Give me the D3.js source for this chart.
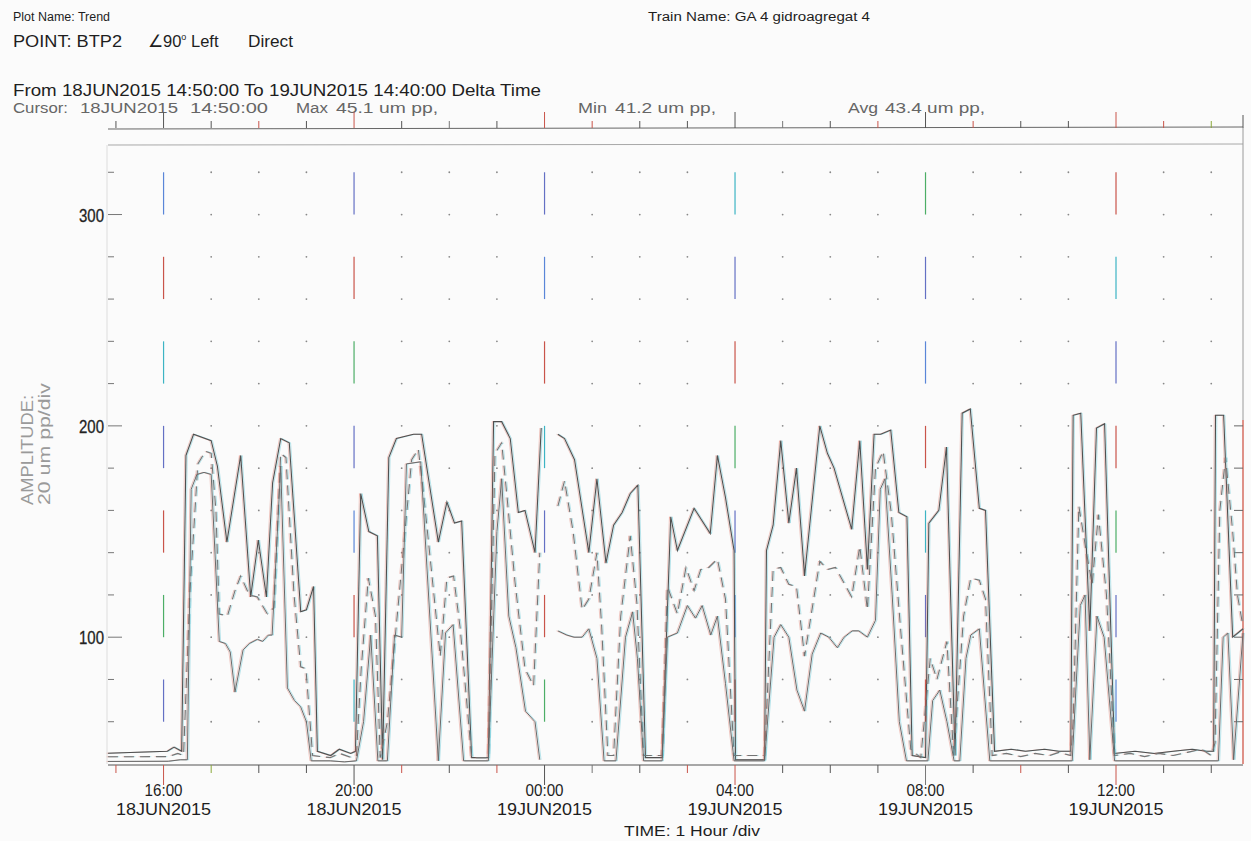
<!DOCTYPE html>
<html>
<head>
<meta charset="utf-8">
<script src="https://cdn.jsdelivr.net/npm/d3@7"></script>
<style>
  body { margin: 0; background: #fbfbfb; }
  text { font-family: "Liberation Sans", Arial, sans-serif; }
</style>
</head>
<body>
<svg id="chart" width="1251" height="841"></svg>
<script>
// times are clock hours counted from 18JUN2015 00:00 (24.5 = 19JUN 00:30), null = gap
const maxSeries = [
  [14.833,45.1],[16.08,46],[16.22,48],[16.38,46],
  [16.47,186],[16.63,196],[17.0,193],[17.13,181],[17.33,145],[17.62,186],[17.83,119],[17.99,146],
  [18.16,119],[18.29,173],[18.46,194],[18.64,192],[18.88,112],[19.0,113],[19.15,124],[19.23,46],
  [19.51,44],[19.69,47],[19.93,45],[20.03,46],
  [20.14,168],[20.31,150],[20.49,148],[20.6,42],
  [20.73,185],[20.89,194],[21.25,196],[21.42,196],[21.77,145],[21.95,164],[22.11,154],[22.26,155],[22.47,43],[22.82,43],
  [22.93,202],[23.1,202],[23.28,194],[23.45,159],[23.59,160],[23.8,140],[23.93,199],
  null,
  [24.28,196],[24.42,194],[24.63,184],[24.93,140],[25.1,175],[25.29,135],[25.45,153],[25.63,159],[25.8,168],[25.96,172],[26.12,43],[26.47,43],
  [26.65,157],[26.79,141],[27.14,161],[27.48,149],[27.63,186],[27.8,166],[27.98,141],[28.01,42],[28.62,42],
  [28.66,141],[28.8,153],[28.96,193],[29.13,154],[29.29,180],[29.46,129],[29.78,200],[29.94,187],[30.08,180],
  [30.45,151],[30.62,193],[30.78,132],[30.92,196],[31.06,196],[31.27,198],[31.44,159],[31.61,157],[31.72,44],[32.0,43],
  [32.07,154],[32.28,160],[32.44,190],[32.62,44],
  [32.77,206],[32.94,208],[33.13,161],[33.26,160],[33.45,46],
  [33.8,47],[34.1,46],[34.5,47],[34.8,46],[35.05,46],
  [35.1,205],[35.26,206],[35.45,103],[35.59,199],[35.76,201],[35.97,45],
  [36.4,46],[36.8,45],[37.2,46],[37.6,47],[37.9,46],[38.05,46],
  [38.09,205],[38.26,205],[38.45,100],[38.667,104]
];

const avgSeries = [
  [14.833,43.4],[16.1,43.5],[16.3,45],[16.42,44],
  [16.55,120],[16.72,182],[16.88,188],[17.0,187],[17.1,160],[17.17,111],[17.34,110],[17.5,122],[17.62,129],[17.8,120],
  [17.97,119],[18.18,111],[18.32,114],[18.46,187],[18.57,185],[18.74,120],[18.88,86],[18.99,85],[19.13,44],
  [19.5,43],[19.7,45],[19.95,43],[20.05,44],
  [20.15,85],[20.3,128],[20.45,110],[20.55,43],
  [20.7,60],[21.21,184],[21.35,189],[21.45,170],[21.81,91],[21.95,128],[22.09,129],[22.23,104],[22.47,43],[22.82,43],
  [22.96,187],[23.1,192],[23.21,167],[23.38,126],[23.59,85],[23.77,77],[23.9,140],
  null,
  [24.28,162],[24.42,174],[24.6,150],[24.79,113],[24.93,118],[25.1,140],[25.2,105],[25.33,44],[25.45,44],
  [25.6,110],[25.8,148],[25.94,116],[26.08,44],[26.47,44],
  [26.58,124],[26.79,111],[26.97,133],[27.14,122],[27.28,132],[27.45,133],[27.63,137],[27.8,118],[27.98,44],[28.62,44],
  [28.8,132],[28.96,133],[29.13,125],[29.29,124],[29.46,91],[29.78,136],[29.94,132],[30.11,133],[30.45,119],
  [30.62,143],[30.78,113],[30.95,180],[31.11,188],[31.28,159],[31.48,103],[31.69,47],[31.9,43],
  [32.1,90],[32.24,80],[32.45,98],[32.59,44],
  [32.8,110],[32.95,128],[33.13,127],[33.26,118],[33.4,44],
  [33.7,45],[34.0,43.5],[34.3,45],[34.6,44],[34.8,45.5],[35.05,44],
  [35.1,60],[35.22,162],[35.38,140],[35.5,125],[35.63,158],[35.8,120],[35.97,44],
  [36.3,45],[36.6,43.5],[36.9,45],[37.2,44],[37.5,45.5],[37.8,47],[38.0,44],[38.08,50],
  [38.18,160],[38.3,185],[38.45,150],[38.55,120],[38.667,105]
];

const minSeries = [
  [14.833,41.2],[16.1,41.3],[16.35,42],[16.5,42],
  [16.58,170],[16.7,177],[16.85,178],[17.0,177],[17.17,98],[17.3,97],[17.4,93],[17.5,74],[17.67,94],[17.8,97],
  [17.97,99],[18.08,98],[18.2,101],[18.28,101],[18.46,181],[18.6,76],[18.75,70],[18.88,67],[19.0,60],[19.1,41.5],
  [19.5,41.5],[19.8,41],[20.05,41.5],
  [20.2,60],[20.35,101],[20.5,41.5],[20.7,41.5],
  [20.85,101],[21.0,100],[21.1,182],[21.4,183],[21.77,41.5],[21.92,102],[22.08,106],[22.3,41.5],[22.82,41.5],
  [23.0,150],[23.1,175],[23.25,110],[23.4,95],[23.6,65],[23.8,60],[23.9,42],
  null,
  [24.28,103],[24.47,101],[24.62,100],[24.79,100],[24.93,104],[25.1,90],[25.25,41.5],[25.5,41.5],
  [25.7,100],[25.85,112],[25.95,90],[26.08,41.5],[26.47,41.5],
  [26.58,100],[26.79,102],[27.0,115],[27.17,109],[27.31,115],[27.49,101],[27.63,110],[27.8,78],[27.98,41.5],[28.62,41.5],
  [28.82,100],[28.96,106],[29.13,100],[29.3,75],[29.46,65],[29.62,92],[29.8,102],[29.97,100],[30.15,95],
  [30.29,100],[30.46,103],[30.6,103],[30.78,100],[30.95,108],[31.05,170],[31.15,175],[31.3,120],[31.45,60],[31.6,41.5],
  [32.05,41.5],[32.15,70],[32.3,75],[32.45,60],[32.6,41.5],
  [32.72,41.5],[32.85,90],[32.95,101],[33.13,104],[33.35,41.5],
  [35.08,41.5],[35.25,115],[35.35,120],[35.45,42],[35.6,110],[35.75,100],[35.97,41.5],
  [38.15,41.5],[38.25,100],[38.35,102],[38.47,42],[38.667,102]
];

const hourTicks = d3.range(15, 39);
const majorHours = [16, 20, 24, 28, 32, 36];
const yLabels = [100, 200, 300];
const dashLevels = [320, 280, 240, 200, 160, 120, 80];
const dashColors = ['#5a86d8', '#c9544a', '#3cb4c4', '#6470c4', '#c9544a', '#4cae66', '#6470c4'];
const tickColors = ['#c9544a', '#c9544a', '#8aa83a', '#555', '#555', '#555', '#c9544a', '#555', '#c9544a', '#555',
  '#777', '#555', '#c9544a', '#c9544a', '#555', '#555', '#555', '#777', '#555', '#c9544a', '#555', '#c9544a', '#555', '#555'];

const svg = d3.select('#chart');
const plotL = 108, plotR = 1243, plotT = 130, plotB = 764;

const x = d3.scaleLinear().domain([14.8333, 38.6667]).range([plotL, plotR]);
const y = d3.scaleLinear().domain([40, 340]).range([plotB, plotT]);

// text helper: width forced to what the scan shows
function label(parent, str, px, py, size, len, fill) {
  const t = parent.append('text').attr('x', px).attr('y', py).attr('font-size', size).text(str);
  if (len) t.attr('textLength', len).attr('lengthAdjust', 'spacingAndGlyphs');
  if (fill) t.attr('fill', fill);
  return t;
}

// header
const hdr = svg.append('g').attr('fill', '#1e1e1e');
label(hdr, 'Plot Name: Trend', 13, 21, 12, 97);
label(hdr, 'POINT: BTP2', 13, 47, 16.5, 109);
const ang = hdr.append('text').attr('x', 148).attr('y', 47).attr('font-size', 16.5);
ang.append('tspan').text('\u222090');
ang.append('tspan').attr('dy', -7).attr('font-size', 9).text('o');
ang.append('tspan').attr('dy', 7).text(' Left');
label(hdr, 'Direct', 248, 47, 16.5, 45);
label(hdr, 'Train Name: GA 4 gidroagregat 4', 648, 21, 12, 222);
label(hdr, 'From 18JUN2015 14:50:00 To 19JUN2015 14:40:00 Delta Time', 13, 96, 16.5, 528);

const cur = svg.append('g').attr('fill', '#666');
[['Cursor:', 13, 55], ['18JUN2015', 80, 98], ['14:50:00', 190, 78], ['Max', 296, 32], ['45.1 um pp,', 336, 102],
 ['Min', 578, 29], ['41.2 um pp,', 615, 101], ['Avg', 848, 30], ['43.4 um pp,', 885, 100]].forEach(([t, px, w]) => {
  label(cur, t, px, 113, 15.5, w);
});

// top ruler
svg.append('line').attr('x1', plotL).attr('x2', plotR).attr('y1', 129).attr('y2', 127)
  .attr('stroke', '#666').attr('stroke-width', 1);
svg.append('line').attr('x1', plotL).attr('x2', plotR).attr('y1', 145).attr('y2', 144)
  .attr('stroke', '#a8a8a8').attr('stroke-width', 1);
svg.selectAll('.ttick').data(hourTicks).enter().append('line')
  .attr('x1', d => x(d)).attr('x2', d => x(d))
  .attr('y1', 128).attr('y2', d => majorHours.includes(d) ? 112 : 121)
  .attr('stroke', (d, i) => tickColors[(i + 3) % tickColors.length]).attr('stroke-width', 1);
svg.append('line').attr('x1', plotR).attr('x2', plotR).attr('y1', 115).attr('y2', 128)
  .attr('stroke', '#555');

// frame
svg.append('line').attr('x1', plotL - 1).attr('x2', plotL - 1).attr('y1', 145).attr('y2', plotB)
  .attr('stroke', '#ddd');
svg.append('line').attr('x1', plotR).attr('x2', plotR).attr('y1', 127).attr('y2', 420)
  .attr('stroke', '#9a9a9a').attr('stroke-width', 1);
svg.append('line').attr('x1', plotR).attr('x2', plotR).attr('y1', 420).attr('y2', plotB)
  .attr('stroke', '#d0584a').attr('stroke-width', 1.3);

// y ticks left and right
const yt = d3.range(60, 340, 20);
svg.selectAll('.ytick').data(yt).enter().append('line')
  .attr('x1', plotL).attr('x2', d => yLabels.includes(d) ? plotL + 14 : plotL + 6)
  .attr('y1', d => y(d)).attr('y2', d => y(d)).attr('stroke', '#777');
svg.selectAll('.rtick').data(yt.filter(d => d <= 200)).enter().append('line')
  .attr('x1', plotR - 9).attr('x2', plotR).attr('y1', d => y(d)).attr('y2', d => y(d)).attr('stroke', '#666');
svg.selectAll('.ylab').data(yLabels).enter().append('text')
  .attr('x', 104).attr('y', d => y(d) + 7).attr('text-anchor', 'end')
  .attr('font-size', 18.5).attr('fill', '#222').attr('stroke', '#222').attr('stroke-width', 0.3)
  .attr('textLength', 25).attr('lengthAdjust', 'spacingAndGlyphs')
  .text(d => d);

svg.append('text').attr('transform', 'translate(33,450) rotate(-90)').attr('text-anchor', 'middle')
  .attr('font-size', 16).attr('fill', '#9a9a9a').attr('textLength', 110).attr('lengthAdjust', 'spacingAndGlyphs')
  .text('AMPLITUDE:');
svg.append('text').attr('transform', 'translate(50,444) rotate(-90)').attr('text-anchor', 'middle')
  .attr('font-size', 16).attr('fill', '#9a9a9a').attr('textLength', 122).attr('lengthAdjust', 'spacingAndGlyphs')
  .text('20 um pp/div');

// dot grid at minor hours
const minorHours = hourTicks.filter(h => !majorHours.includes(h) && h > 15);
const dots = [];
minorHours.forEach(h => d3.range(60, 340, 20).forEach(v => dots.push([h, v])));
svg.selectAll('.dot').data(dots).enter().append('circle')
  .attr('cx', d => x(d[0])).attr('cy', d => y(d[1])).attr('r', 0.9).attr('fill', '#888');

// coloured dash markers at 4-hour lines
const marks = [];
majorHours.forEach((h, i) => dashLevels.forEach((v, j) => marks.push({ h, v, c: dashColors[(i * 3 + j) % dashColors.length] })));
svg.selectAll('.mark').data(marks).enter().append('line')
  .attr('x1', d => x(d.h)).attr('x2', d => x(d.h))
  .attr('y1', d => y(d.v)).attr('y2', d => y(d.v - 20))
  .attr('stroke', d => d.c).attr('stroke-width', 1.2);

// bottom axis
svg.append('line').attr('x1', plotL).attr('x2', plotR).attr('y1', plotB + 1).attr('y2', plotB + 1)
  .attr('stroke', '#555').attr('stroke-width', 1.2);
svg.selectAll('.btick').data(hourTicks).enter().append('line')
  .attr('x1', d => x(d)).attr('x2', d => x(d))
  .attr('y1', plotB + 1).attr('y2', d => majorHours.includes(d) ? plotB + 21 : plotB + 9)
  .attr('stroke', (d, i) => tickColors[i % tickColors.length]).attr('stroke-width', 1);

const xl = svg.selectAll('.xlab').data(majorHours).enter().append('g').attr('fill', '#1e1e1e');
xl.append('text').attr('x', d => x(d)).attr('y', 796).attr('text-anchor', 'middle')
  .attr('font-size', 16.5).attr('textLength', 38).attr('lengthAdjust', 'spacingAndGlyphs')
  .text(d => String(d % 24).padStart(2, '0') + ':00');
xl.append('text').attr('x', d => x(d)).attr('y', 815).attr('text-anchor', 'middle')
  .attr('font-size', 16.5).attr('textLength', 95).attr('lengthAdjust', 'spacingAndGlyphs')
  .text(d => d < 24 ? '18JUN2015' : '19JUN2015');
label(svg, 'TIME: 1 Hour /div', 624, 836, 14, 136, '#1e1e1e');

// traces, with a faint cyan / red fringe like the scanned print
const line = d3.line().defined(d => d !== null).x(d => x(d[0])).y(d => y(d[1]));
const traces = [
  { data: maxSeries, color: '#505050', dash: null, w: 1.1 },
  { data: avgSeries, color: '#747474', dash: '10,6', w: 1.1 },
  { data: minSeries, color: '#6a6a6a', dash: null, w: 1.0 }
];
const g = svg.append('g');
traces.forEach(t => {
  [['#3cb8cc', 1.3], ['#d86a5a', -1.3]].forEach(([c, dx]) => {
    g.append('path').attr('d', line(t.data)).attr('transform', `translate(${dx},0)`)
      .attr('fill', 'none').attr('stroke', c).attr('stroke-opacity', 0.4).attr('stroke-width', 0.9)
      .attr('stroke-dasharray', t.dash);
  });
  g.append('path').attr('d', line(t.data)).attr('fill', 'none')
    .attr('stroke', t.color).attr('stroke-width', t.w).attr('stroke-dasharray', t.dash);
});
</script>
</body>
</html>
